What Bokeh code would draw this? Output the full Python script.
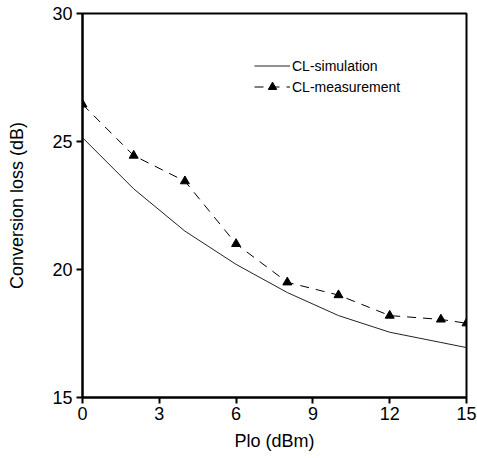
from bokeh.plotting import figure
from bokeh.models import Range1d, FixedTicker, Legend, LegendItem
from bokeh.embed import file_html
from bokeh.resources import INLINE

sim_x = [0, 2, 4, 6, 8, 10, 12, 14, 15]
sim_y = [25.15, 23.15, 21.5, 20.2, 19.1, 18.2, 17.55, 17.15, 16.95]
meas_x = [0, 2, 4, 6, 8, 10, 12, 14, 15]
meas_y = [26.45, 24.45, 23.45, 21.0, 19.5, 19.0, 18.2, 18.05, 17.9]
x_ticks = [0, 3, 6, 9, 12, 15]
y_ticks = [15, 20, 25, 30]

FONT = "Liberation Sans"

p = figure(width=477, height=458, output_backend="svg", toolbar_location=None,
           x_range=Range1d(0, 15), y_range=Range1d(15, 30),
           min_border_left=82, min_border_right=11, min_border_top=13, min_border_bottom=61)
p.xgrid.visible = False
p.ygrid.visible = False
p.outline_line_color = "black"
p.outline_line_width = 2
p.outline_line_alpha = 1

for ax in (p.xaxis[0], p.yaxis[0]):
    ax.axis_line_width = 2
    ax.axis_line_color = "black"
    ax.major_tick_line_width = 2
    ax.major_tick_out = 6
    ax.major_tick_in = 0
    ax.minor_tick_out = 0
    ax.minor_tick_in = 0
    ax.major_label_text_font = FONT
    ax.major_label_text_font_size = "18px"
    ax.major_label_text_color = "black"
    ax.axis_label_text_font = FONT
    ax.axis_label_text_font_size = "18px"
    ax.axis_label_text_font_style = "normal"
    ax.axis_label_text_color = "black"

p.xaxis.ticker = FixedTicker(ticks=x_ticks)
p.yaxis.ticker = FixedTicker(ticks=y_ticks)
p.xaxis.axis_label = "Plo (dBm)"
p.yaxis.axis_label = "Conversion loss (dB)"
p.xaxis.major_label_standoff = 3
p.yaxis.major_label_standoff = 4
p.xaxis.axis_label_standoff = 8
p.yaxis.axis_label_standoff = 22

r_sim = p.line(sim_x, sim_y, line_color="#222222", line_width=1)
r_meas_line = p.line(meas_x, meas_y, line_color="black", line_width=1, line_dash="9 7")
r_meas_pts = p.scatter(meas_x, meas_y, marker="triangle", size=9, fill_color="black", line_color="black")

legend = Legend(items=[
    LegendItem(label="CL-simulation", renderers=[r_sim]),
    LegendItem(label="CL-measurement", renderers=[r_meas_line, r_meas_pts]),
], location=(172, 300))
legend.border_line_color = None
legend.background_fill_alpha = 0
legend.padding = 0
legend.spacing = 0
legend.margin = 0
legend.glyph_width = 36
legend.glyph_height = 21
legend.label_height = 21
legend.label_standoff = 2
legend.label_text_font = FONT
legend.label_text_font_size = "14px"
legend.label_text_color = "black"
p.add_layout(legend)

open("out.html", "w").write(file_html(p, INLINE))
